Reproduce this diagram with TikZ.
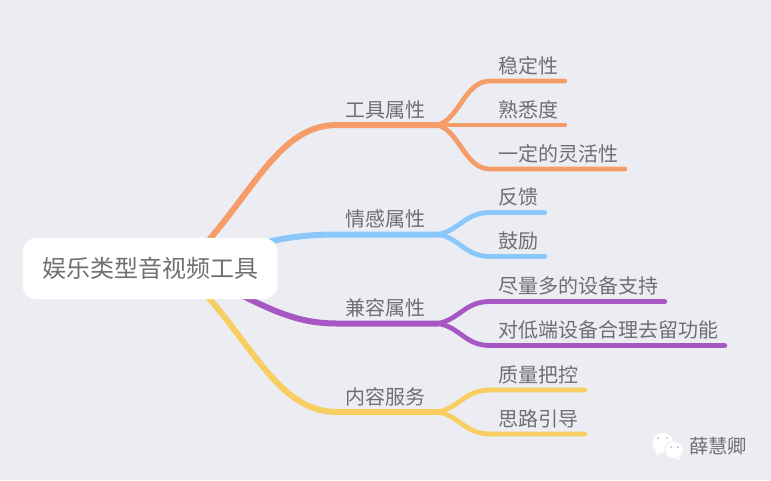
\documentclass[tikz,border=0pt]{standalone}
\usepackage{fontspec}
\setmainfont{Noto Sans CJK SC}
\usetikzlibrary{backgrounds}
\definecolor{pagebg}{HTML}{ECEDF3}
\definecolor{inkgray}{HTML}{6F6E72}
\definecolor{orangeline}{HTML}{F59D68}
\definecolor{blueline}{HTML}{8AC7FB}
\definecolor{purpleline}{HTML}{A757C4}
\definecolor{yellowline}{HTML}{F8CD62}
\tikzset{
  px/.style={x=0.75pt,y=-0.75pt},
  rootbox/.style={fill=white,rounded corners=10.5pt,text=inkgray,font=\fontsize{18pt}{18pt}\selectfont,
    minimum width=191.25pt,minimum height=46pt,inner sep=0pt},
  topic/.style={anchor=south west,text=inkgray,font=\fontsize{15pt}{15pt}\selectfont,
    inner xsep=6pt,inner ysep=0pt,text height=13pt,text depth=5.8pt},
  trunk/.style={line width=4.5pt,line cap=round},
  twig/.style={line width=3.6pt,line cap=round,shorten >=1.3pt}
}
\begin{document}
\begin{tikzpicture}[px]
\useasboundingbox (0,0) rectangle (771,480);
\begin{scope}[on background layer]
  \fill[pagebg] (0,0) rectangle (771,480);
\end{scope}

% central topic
\node[rootbox] (root) at (150,268.5) {娱乐类型音视频工具};

% main topics
\node[topic] (tool) at (337,125) {工具属性};
\node[topic] (emo)  at (337,234.5) {情感属性};
\node[topic] (comp) at (337,323.5) {兼容属性};
\node[topic] (cont) at (337,412) {内容服务};

% leaves
\node[topic] (a1) at (490,81)  {稳定性};
\node[topic] (a2) at (490,125) {熟悉度};
\node[topic] (a3) at (490,169) {一定的灵活性};
\node[topic] (b1) at (490,212.5) {反馈};
\node[topic] (b2) at (490,256.5) {鼓励};
\node[topic] (c1) at (490,301.5) {尽量多的设备支持};
\node[topic] (c2) at (490,345.5) {对低端设备合理去留功能};
\node[topic] (d1) at (490,390) {质量把控};
\node[topic] (d2) at (490,434) {思路引导};

% branch points
\coordinate (hubA) at (438,125);
\coordinate (hubB) at (438,234.5);
\coordinate (hubC) at (438,323.5);
\coordinate (hubD) at (438,412);
\coordinate (outA) at (200,250);
\coordinate (outB) at (255,245);
\coordinate (outC) at (235,292);
\coordinate (outD) at (200,288);

\begin{scope}[on background layer]
  \draw[trunk,orangeline] (outA) .. controls (255,190) and (280,125) .. (tool.south west) -- (hubA);
  \draw[trunk,blueline] (outB) .. controls (285,237) and (310,234.5) .. (emo.south west) -- (hubB);
  \draw[trunk,purpleline] (outC) .. controls (275,312) and (300,323.5) .. (comp.south west) -- (hubC);
  \draw[trunk,yellowline] (outD) .. controls (255,348) and (280,412) .. (cont.south west) -- (hubD);

  \draw[twig,orangeline] (hubA) .. controls (460,118) and (465,81) .. (a1.south west) -- (a1.south east);
  \draw[twig,orangeline] (hubA) -- (a2.south west) -- (a2.south east);
  \draw[twig,orangeline] (hubA) .. controls (460,132) and (465,169) .. (a3.south west) -- (a3.south east);
  \draw[twig,blueline] (hubB) .. controls (460,230) and (465,212.5) .. (b1.south west) -- (b1.south east);
  \draw[twig,blueline] (hubB) .. controls (460,238) and (465,256.5) .. (b2.south west) -- (b2.south east);
  \draw[twig,purpleline] (hubC) .. controls (460,319) and (465,301.5) .. (c1.south west) -- (c1.south east);
  \draw[twig,purpleline] (hubC) .. controls (460,327) and (465,345.5) .. (c2.south west) -- (c2.south east);
  \draw[twig,yellowline] (hubD) .. controls (460,407) and (465,390) .. (d1.south west) -- (d1.south east);
  \draw[twig,yellowline] (hubD) .. controls (460,416) and (465,434) .. (d2.south west) -- (d2.south east);
\end{scope}

% signature: chat bubbles and name
\fill[white] (663,443) ellipse (10.5 and 10);
\fill[white] (656,450) -- (661,452) -- (657,456) -- cycle;
\fill[pagebg] (674,450) ellipse (10 and 9);
\fill[white] (674,450) ellipse (8.7 and 8);
\fill[white] (678,456) -- (682,460) -- (674,458) -- cycle;
\fill[gray!70] (658,438) circle (0.9) (667,438) circle (0.9) (671,447) circle (0.9) (678,447) circle (0.9);
\node[text=inkgray,font=\fontsize{14.5pt}{15pt}\selectfont,inner sep=0pt] (sig) at (718,446.5) {薛慧卿};
\end{tikzpicture}
\end{document}
